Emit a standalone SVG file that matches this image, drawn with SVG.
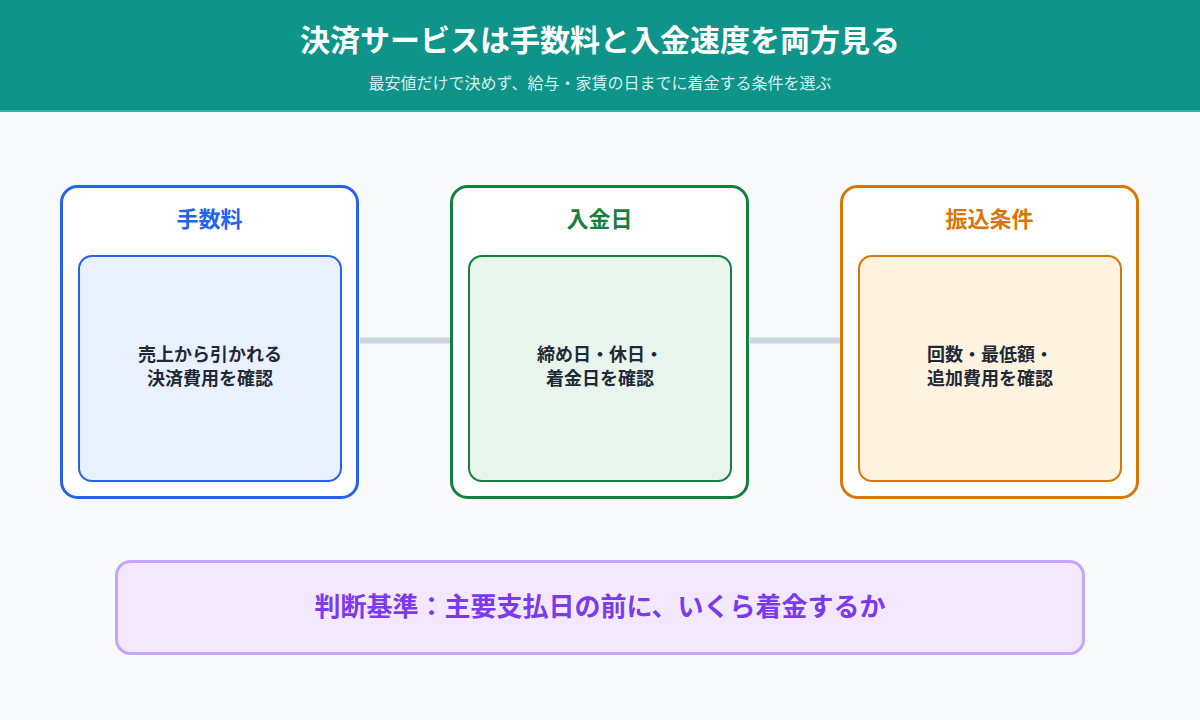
<svg xmlns="http://www.w3.org/2000/svg" width="1200" height="720" viewBox="0 0 1200 720">
<style>
text{font-family:"Noto Sans CJK JP","Noto Sans",sans-serif;text-anchor:middle}
.title{font-size:30px;font-weight:700;fill:#ffffff}
.sub{font-size:16px;fill:#d6f0ec}
.ntitle{font-size:22px;font-weight:700}
.body{font-size:18px;font-weight:700;fill:#1f2937}
.outer{fill:#ffffff;stroke-width:3}
.inner{stroke-width:2}
.conn{stroke:#cbd5e1;stroke-width:6;fill:none}
</style>
<rect x="0" y="0" width="1200" height="720" fill="#f7f9fb"/>
<g id="header">
<rect x="0" y="0" width="1200" height="112" fill="#0e9488"/>
<rect x="0" y="110" width="1200" height="2" fill="#3fb0a5"/>
<text class="title" x="600" y="51">決済サービスは手数料と入金速度を両方見る</text>
<text class="sub" x="600" y="89">最安値だけで決めず、給与・家賃の日までに着金する条件を選ぶ</text>
</g>
<g id="connectors">
<line class="conn" x1="360" y1="340.5" x2="450" y2="340.5"/>
<line class="conn" x1="750" y1="340.5" x2="840" y2="340.5"/>
</g>
<g id="fee">
<rect class="outer" x="61.5" y="186.5" width="296" height="311" rx="16" stroke="#2563eb"/>
<text class="ntitle" x="209.5" y="227" fill="#2563eb">手数料</text>
<rect class="inner" x="79" y="256" width="262" height="225" rx="13" fill="#eaf1fe" stroke="#2563eb"/>
<text class="body" x="210" y="361">売上から引かれる</text>
<text class="body" x="210" y="385">決済費用を確認</text>
</g>
<g id="payday">
<rect class="outer" x="451.5" y="186.5" width="296" height="311" rx="16" stroke="#15803d"/>
<text class="ntitle" x="599.5" y="227" fill="#15803d">入金日</text>
<rect class="inner" x="469" y="256" width="262" height="225" rx="13" fill="#e8f5ec" stroke="#15803d"/>
<text class="body" x="600" y="361">締め日・休日・</text>
<text class="body" x="600" y="385">着金日を確認</text>
</g>
<g id="transfer">
<rect class="outer" x="841.5" y="186.5" width="296" height="311" rx="16" stroke="#d97706"/>
<text class="ntitle" x="989.5" y="227" fill="#d97706">振込条件</text>
<rect class="inner" x="859" y="256" width="262" height="225" rx="13" fill="#fef3e0" stroke="#d97706"/>
<text class="body" x="990" y="361">回数・最低額・</text>
<text class="body" x="990" y="385">追加費用を確認</text>
</g>
<g id="criteria">
<rect x="116.5" y="561.5" width="967" height="92" rx="14" fill="#f3e8ff" stroke="#c4a5fa" stroke-width="3"/>
<text x="600" y="616" font-size="26" font-weight="700" fill="#7c3aed">判断基準：主要支払日の前に、いくら着金するか</text>
</g>
</svg>
